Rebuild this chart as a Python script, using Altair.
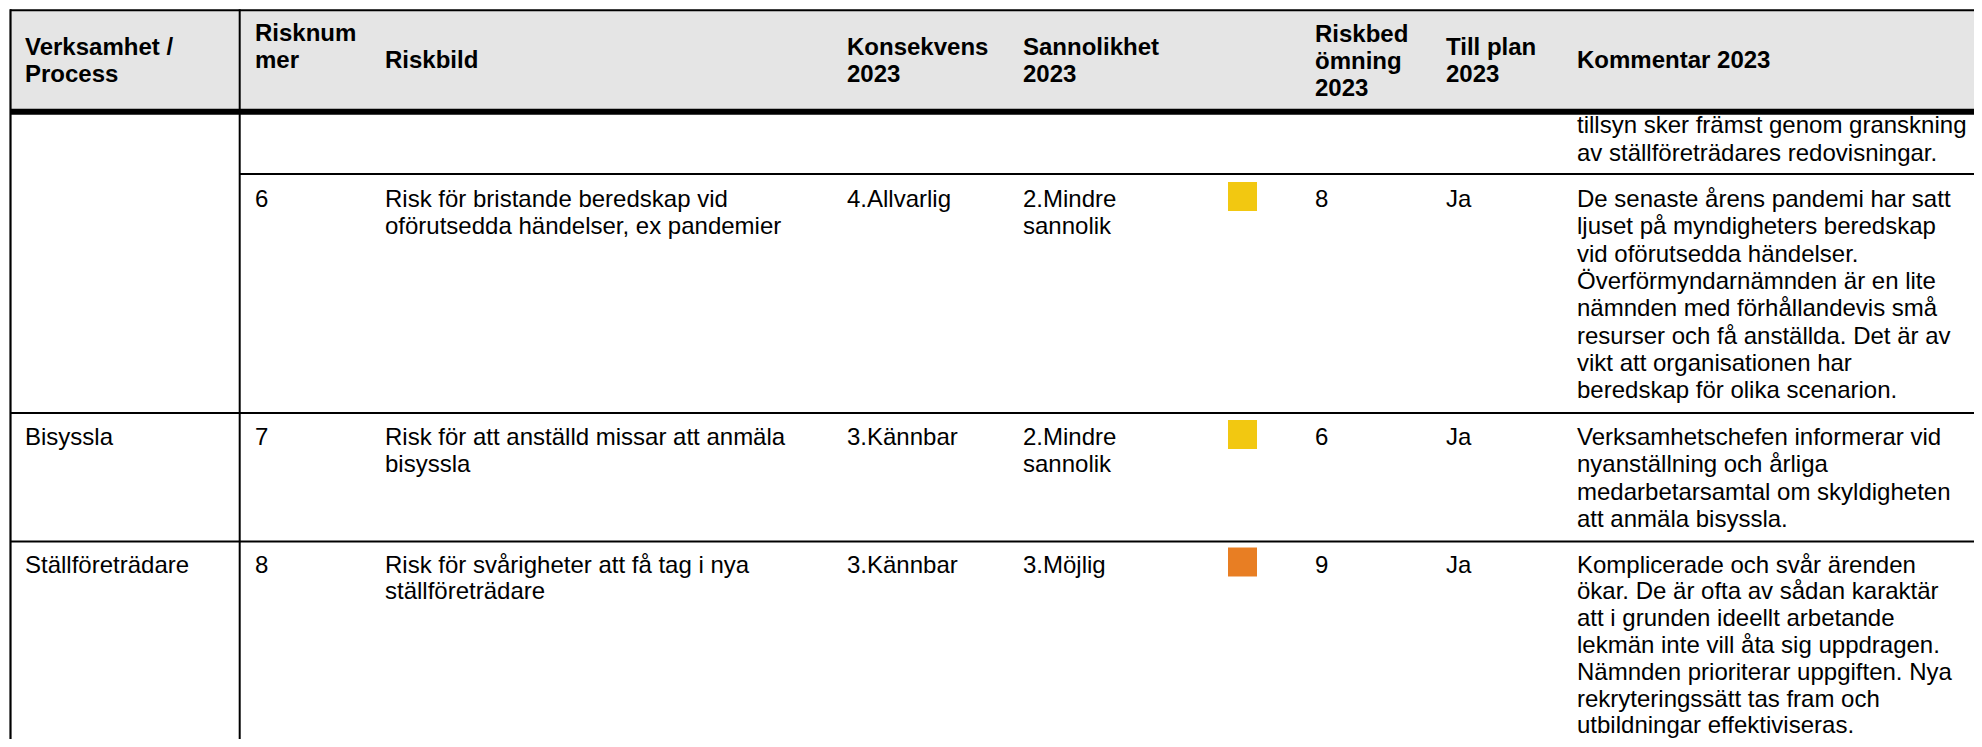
import altair as alt
import pandas as pd

# ---------------- content ----------------
header_lines = [
    ["Verksamhet /", "Process"],
    ["Risknum", "mer"],
    ["Riskbild"],
    ["Konsekvens", "2023"],
    ["Sannolikhet", "2023"],
    [],
    ["Riskbed", "ömning", "2023"],
    ["Till plan", "2023"],
    ["Kommentar 2023"],
]

verksamhet = ["", "", "Bisyssla", "Ställföreträdare"]
risknummer = ["", "6", "7", "8"]
riskbild = [
    [],
    ["Risk för bristande beredskap vid", "oförutsedda händelser, ex pandemier"],
    ["Risk för att anställd missar att anmäla", "bisyssla"],
    ["Risk för svårigheter att få tag i nya", "ställföreträdare"],
]
konsekvens = ["", "4.Allvarlig", "3.Kännbar", "3.Kännbar"]
sannolikhet = [[], ["2.Mindre", "sannolik"], ["2.Mindre", "sannolik"], ["3.Möjlig"]]
risknivå = ["", "gul", "gul", "orange"]
riskbedomning = ["", "8", "6", "9"]
till_plan = ["", "Ja", "Ja", "Ja"]
kommentar = [
    ["tillsyn sker främst genom granskning",
     "av ställföreträdares redovisningar."],
    ["De senaste årens pandemi har satt",
     "ljuset på myndigheters beredskap",
     "vid oförutsedda händelser.",
     "Överförmyndarnämnden är en lite",
     "nämnden med förhållandevis små",
     "resurser och få anställda. Det är av",
     "vikt att organisationen har",
     "beredskap för olika scenarion."],
    ["Verksamhetschefen informerar vid",
     "nyanställning och årliga",
     "medarbetarsamtal om skyldigheten",
     "att anmäla bisyssla."],
    ["Komplicerade och svår ärenden",
     "ökar. De är ofta av sådan karaktär",
     "att i grunden ideellt arbetande",
     "lekmän inte vill åta sig uppdragen.",
     "Nämnden prioriterar uppgiften. Nya",
     "rekryteringssätt tas fram och",
     "utbildningar effektiviseras."],
]

# ---------------- layout / style ----------------
W, H = 1966, 731
FONT = "Liberation Sans"
col_x = [25, 255, 385, 847, 1023, 1242.5, 1315, 1446, 1577]
header_base = [55, 41, 68, 55, 55, 0, 42, 55, 68]
HEADER_LH = 27
row_base = [133, 207, 445, 572.5]
row_lh = [27.5, 27.3, 27.3, 26.8]   # last row slightly tighter so it stays inside the page
nivå_farg = {"gul": "#F2C811", "orange": "#E87E23"}

# header text rows
hdr = []
for i, lines in enumerate(header_lines):
    for j, t in enumerate(lines):
        hdr.append({"x": col_x[i], "y": header_base[i] + j * HEADER_LH, "text": t})
hdr = pd.DataFrame(hdr)

# body text rows
body = []
def add(col, r, lines):
    if isinstance(lines, str):
        lines = [lines] if lines else []
    for j, t in enumerate(lines):
        body.append({"x": col_x[col], "y": row_base[r] + j * row_lh[r], "text": t})

for r in range(4):
    add(0, r, verksamhet[r])
    add(1, r, risknummer[r])
    add(2, r, riskbild[r])
    add(3, r, konsekvens[r])
    add(4, r, sannolikhet[r])
    add(6, r, riskbedomning[r])
    add(7, r, till_plan[r])
    add(8, r, kommentar[r])
body = pd.DataFrame(body)

sq = pd.DataFrame([
    {"x": col_x[5], "y": row_base[r] - 10.5, "farg": nivå_farg[risknivå[r]]}
    for r in range(4) if risknivå[r]
])

rules = pd.DataFrame([
    {"x": 10, "x2": 1990, "y": 10.3, "y2": 10.3, "w": 2},
    {"x": 10, "x2": 1990, "y": 111.7, "y2": 111.7, "w": 6},
    {"x": 239.7, "x2": 1990, "y": 174, "y2": 174, "w": 2},
    {"x": 10, "x2": 1990, "y": 413, "y2": 413, "w": 2},
    {"x": 10, "x2": 1990, "y": 541.5, "y2": 541.5, "w": 2},
    {"x": 10.5, "x2": 10.5, "y": 9.3, "y2": 760, "w": 2.2},
    {"x": 239.7, "x2": 239.7, "y": 9.3, "y2": 760, "w": 2},
])

bg = pd.DataFrame([{"x": 10, "x2": 1990, "y": 10, "y2": 110}])

xs = alt.Scale(domain=[8, 8 + W], range=[0, W], nice=False, zero=False)
ys = alt.Scale(domain=[8, 8 + H], range=[0, H], nice=False, zero=False)

X = lambda f="x": alt.X(f"{f}:Q", scale=xs, axis=None)
Y = lambda f="y": alt.Y(f"{f}:Q", scale=ys, axis=None)

bg_layer = alt.Chart(bg).mark_rect(color="#E5E5E5").encode(
    x=X(), x2="x2:Q", y=Y(), y2="y2:Q")

rule_layer = alt.Chart(rules).mark_rule(color="black").encode(
    x=X(), x2="x2:Q", y=Y(), y2="y2:Q",
    strokeWidth=alt.StrokeWidth("w:Q", scale=None, legend=None))

hdr_layer = alt.Chart(hdr).mark_text(
    font=FONT, fontSize=24, fontWeight="bold", align="left",
    baseline="alphabetic", color="black").encode(x=X(), y=Y(), text="text:N")

body_layer = alt.Chart(body).mark_text(
    font=FONT, fontSize=24, align="left",
    baseline="alphabetic", color="black").encode(x=X(), y=Y(), text="text:N")

sq_layer = alt.Chart(sq).mark_square(size=841, opacity=1, strokeWidth=0).encode(
    x=X(), y=Y(), color=alt.Color("farg:N", scale=None, legend=None))

chart = alt.layer(bg_layer, rule_layer, sq_layer, hdr_layer, body_layer).properties(
    width=W, height=H, padding=0, autosize="none"
).configure_view(strokeWidth=0)

chart.save("out.html", embed_options={"renderer": "svg", "actions": False})
